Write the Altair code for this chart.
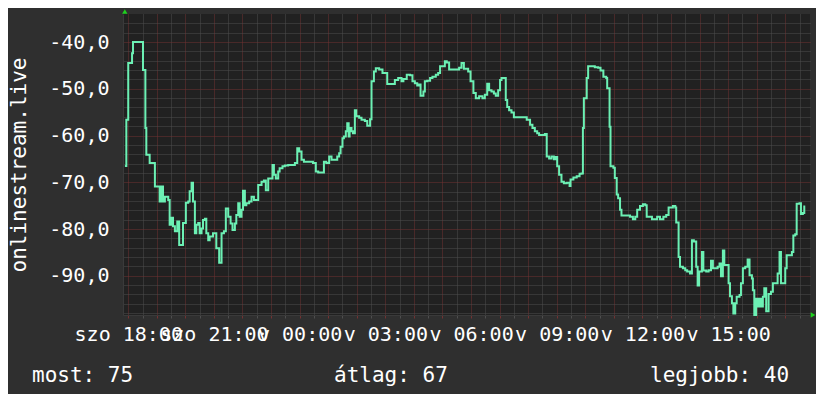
import json
import altair as alt
import pandas as pd

# minutes after Saturday 18:00
minutes = [-7, -4, 0, 5, 8, 10, 30, 31, 36, 38, 45, 56, 66, 70, 73, 77, 84, 87, 91, 94,
           98, 103, 107, 112, 115, 121, 126, 129, 133, 136, 140, 143, 147, 150, 154, 157, 161, 164, 168, 171,
           178, 185, 191, 196, 201, 205, 210, 215, 219, 224, 227, 231, 234, 238, 241, 245, 248, 254, 259, 264,
           273, 280, 285, 289, 294, 303, 306, 310, 315, 318, 324, 329, 336, 350, 355, 359, 364, 369, 388, 394,
           399, 411, 416, 422, 427, 439, 443, 446, 450, 453, 457, 460, 463, 465, 469, 472, 476, 479, 485, 490,
           497, 502, 508, 511, 516, 520, 527, 534, 539, 544, 560, 567,
           574, 578, 585, 592, 597, 602, 607, 611, 614, 620, 623, 628, 634, 639, 646, 651, 655, 665, 669, 674,
           690, 695, 700, 705, 714, 719, 725, 730, 737, 744, 749, 754, 758, 763, 768, 772, 777, 781, 784, 793,
           796, 800, 805, 810, 831, 837, 844, 849, 854, 859, 863, 875, 879, 884, 889, 894, 898, 901, 905, 910,
           915, 921, 927, 929, 935, 942, 948, 952, 955, 957, 963, 966, 980, 987, 992, 998, 1004, 1006, 1011, 1013,
           1019, 1022, 1026, 1029, 1033, 1036, 1054, 1060, 1065, 1069, 1075, 1081, 1086, 1089, 1100, 1111, 1117, 1124,
           1130, 1135, 1139, 1144, 1149, 1151, 1156, 1159, 1165, 1170, 1174, 1180, 1184, 1188, 1193, 1196, 1199, 1205,
           1208, 1214, 1219, 1224, 1228, 1238, 1242, 1245, 1249, 1252, 1256, 1261, 1264, 1268, 1271, 1275, 1278, 1284,
           1287, 1291, 1296, 1301, 1305, 1310, 1312, 1315, 1319, 1322, 1326, 1329, 1333, 1336, 1340, 1345, 1350, 1354,
           1364, 1368, 1371, 1380, 1383, 1394, 1397, 1401, 1404, 1410, 1413, 1417, 1420, 1422]

values = [-66.5, -56.6, -44.5, -44.5, -42.4, -40.0, -40.0, -46.0, -58.4, -64.1, -65.9, -70.9, -74.1, -70.9, -74.1, -73.1, -73.8, -79.1, -77.6, -79.4,
          -80.5, -78.4, -83.4, -83.4, -78.7, -74.4, -74.1, -71.9, -70.1, -74.1, -80.9, -79.1, -78.7, -80.9, -79.9, -78.1, -77.8, -80.9, -82.4, -81.6,
          -80.9, -84.1, -87.2, -80.9, -80.5, -75.6, -77.4, -78.8, -80.2, -78.8, -77.0, -74.5, -77.4, -75.9, -71.8, -74.9, -74.5, -74.1, -73.1, -73.8,
          -70.6, -69.9, -69.6, -71.7, -69.2, -66.3, -68.4, -69.2, -67.7, -67.0, -66.6, -66.4, -66.3, -65.9, -62.7, -63.4, -65.2, -65.6, -65.9, -67.7,
          -67.9, -65.6, -65.9, -64.5, -65.2, -64.5, -63.8, -62.4, -60.6, -60.2, -59.1, -57.4, -60.2, -58.4, -59.1, -59.5, -54.6, -55.9, -56.2, -56.6,
          -56.9, -57.9, -56.5, -48.4, -46.3, -45.6, -45.9, -46.6, -46.6, -49.0, -48.1, -47.7,
          -48.4, -47.9, -47.0, -47.1, -48.4, -48.8, -49.3, -49.1, -51.5, -50.6, -48.4, -48.3, -47.7, -47.4, -47.0, -46.6, -45.2, -44.1, -44.4, -45.9,
          -45.9, -45.5, -44.5, -45.7, -46.3, -48.4, -50.9, -52.0, -51.6, -52.0, -51.3, -48.9, -50.3, -50.6, -51.0, -51.5, -50.3, -48.1, -47.7, -52.4,
          -53.9, -54.6, -55.1, -56.1, -56.1, -56.6, -57.7, -58.4, -59.1, -59.5, -59.9, -59.7, -64.5, -64.9, -64.5, -65.1, -64.6, -66.6, -68.4, -69.9,
          -70.2, -70.1, -70.8, -69.4, -69.0, -68.7, -68.2, -68.1, -58.4, -52.0, -47.7, -45.2, -45.4, -45.5, -46.1, -47.4, -47.7, -49.9, -58.1, -66.6,
          -66.9, -69.1, -72.6, -73.4, -75.9, -77.1, -77.4, -77.9, -77.4, -75.9, -75.1, -74.7, -74.9, -77.4, -77.9, -77.4, -77.9, -77.4,
          -77.0, -75.4, -75.4, -75.1, -75.4, -78.6, -86.0, -88.1, -88.4, -88.8, -89.1, -89.5, -82.4, -82.7, -88.1, -92.1, -89.1, -84.9,
          -88.9, -89.1, -88.8, -86.8, -88.4, -88.1, -87.4, -90.1, -84.6, -87.7, -87.7, -91.6, -94.4, -95.9, -98.1, -95.9, -94.5, -94.1,
          -91.6, -88.4, -88.1, -86.5, -89.9, -90.6, -93.1, -98.4, -94.9, -96.6, -94.9, -96.6, -94.5, -92.7, -97.6, -93.9, -93.4, -91.6,
          -89.5, -84.9, -91.6, -88.4, -85.6, -84.9, -81.4, -81.1, -74.6, -74.5, -76.8, -76.6, -75.2, -75.2]

x_tick_minutes = [0, 180, 360, 540, 720, 900, 1080, 1260]
x_tick_labels = ["szo 18:00", "szo 21:00", "v 00:00", "v 03:00", "v 06:00", "v 09:00", "v 12:00", "v 15:00"]
y_tick_values = [-90, -80, -70, -60, -50, -40]
y_title = "onlinestream.live"
legend_texts = ["most: 75", "átlag: 67", "legjobb: 40"]

FONT = "DejaVu Sans Mono"
W, H = 687, 301
X_DOMAIN = [-11, 1432]
Y_DOMAIN = [-98.4, -34.0]
MAJOR = "#723232"
MINOR = "#4e4e4e"

df = pd.DataFrame({"t": minutes, "v": values})

xs = alt.Scale(domain=X_DOMAIN, nice=False, zero=False)
ys = alt.Scale(domain=Y_DOMAIN, nice=False, zero=False)

# grid positions: every 30 min (major each hour), every 2 units (major each 10)
x_grid = list(range(0, 1432, 30))
y_grid = list(range(-98, -35, 2))

label_map = json.dumps({str(m): l for m, l in zip(x_tick_minutes, x_tick_labels)})
x_label_expr = "{0}[toString(datum.value)] || ''".format(label_map)
y_major = json.dumps([str(v) for v in y_tick_values])
y_label_expr = "indexof({0}, toString(datum.value)) >= 0 ? datum.value + ',0' : ''".format(y_major)

x_color = {"condition": {"test": "datum.value % 60 === 0", "value": MAJOR}, "value": MINOR}
y_color = {"condition": {"test": "datum.value % 10 === 0", "value": MAJOR}, "value": MINOR}

line = alt.Chart(df).mark_line(interpolate="step-after", color="#6cf0b4", strokeWidth=2).encode(
    x=alt.X("t:Q", scale=xs, axis=alt.Axis(
        values=x_grid, labelExpr=x_label_expr, title=None,
        grid=True, gridColor=x_color, gridDash=[1, 1], gridWidth=1,
        domain=True, domainColor="#3a3a3a", domainWidth=1,
        ticks=True, tickSize=3, tickColor=x_color, tickWidth=1,
        labelPadding=6, labelFont=FONT, labelFontSize=20, labelColor="#ffffff",
        labelOverlap=False, labelFlush=False, labelBound=False)),
    y=alt.Y("v:Q", scale=ys, axis=alt.Axis(
        values=y_grid, labelExpr=y_label_expr,
        grid=True, gridColor=y_color, gridDash=[1, 1], gridWidth=1,
        domain=True, domainColor="#3a3a3a", domainWidth=1,
        ticks=False, labelPadding=14, labelFont=FONT, labelFontSize=20, labelColor="#ffffff",
        labelOverlap=False, labelFlush=False, labelBound=False,
        title=y_title, titleFont=FONT, titleFontSize=21, titleFontWeight="normal",
        titleColor="#ffffff", titleAngle=270, titleAlign="center", titleBaseline="alphabetic",
        titleX=-98, titleY=H / 2)),
)

one = pd.DataFrame({"a": [0]})
arrow_up = alt.Chart(one).mark_point(shape="triangle-up", filled=True, size=28, color="#1ed21e", opacity=1).encode(
    x=alt.value(1.8), y=alt.value(-2.5))
arrow_right = alt.Chart(one).mark_point(shape="triangle-right", filled=True, size=28, color="#1ed21e", opacity=1).encode(
    x=alt.value(690), y=alt.value(H))

def legend(txt, xpos):
    return alt.Chart(one).mark_text(text=txt, font=FONT, fontSize=21, color="#ffffff",
                                    align="left", baseline="alphabetic").encode(
        x=alt.value(xpos), y=alt.value(368))

chart = alt.layer(
    line, arrow_up, arrow_right,
    legend(legend_texts[0], -91), legend(legend_texts[1], 211), legend(legend_texts[2], 527),
).properties(
    width=W, height=H,
    autosize=alt.AutoSizeParams(type="none"),
    padding={"left": 115, "top": 6, "right": 6, "bottom": 79},
    background="#2f2f2f",
).configure_view(fill="#212121", stroke=None)

chart.save("out.html", embed_options={"renderer": "svg", "actions": False})
